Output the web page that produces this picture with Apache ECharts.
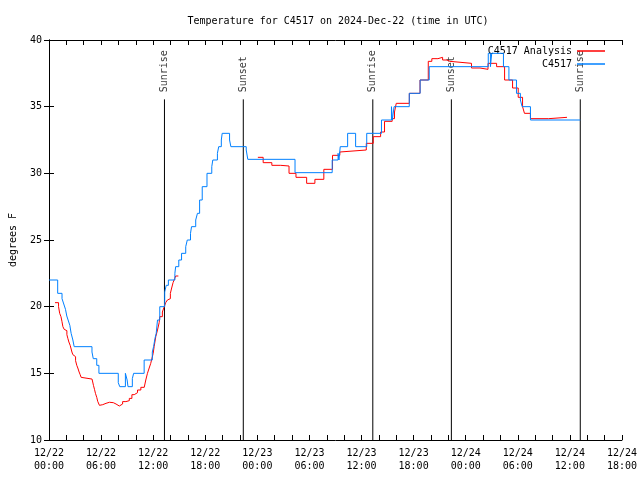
<!DOCTYPE html>
<html><head><meta charset="utf-8">
<script src="https://cdn.jsdelivr.net/npm/echarts@6/dist/echarts.min.js"></script>
<style>html,body{margin:0;padding:0;background:#fff}#c{width:640px;height:480px}</style>
</head><body><div id="c"></div>
<script>
const FONT = '"DejaVu Sans Mono", "Liberation Mono", monospace';

// C4517 observations (hours since 12/22 00:00 UTC, degrees F)
const obsHours = [0, 1.0, 1.5, 1.7, 1.9, 2.05, 2.2, 2.4, 2.55, 2.75, 2.9, 4.95, 5.1, 5.5, 5.75,
  7.98, 8.15, 8.8, 9.0, 9.1, 9.6, 9.75, 10.96, 11.9, 12.05, 12.2, 12.35, 12.5, 12.76,
  13.33, 13.5, 13.75, 14.5, 14.59, 14.95, 15.27, 15.75, 15.93, 16.3, 16.42, 16.9, 17.1, 17.35, 17.65,
  18.2, 18.75, 18.87, 19.4, 19.55, 19.85, 19.95, 20.8, 20.95, 22.72, 22.9, 28.34,
  32.62, 33.3, 33.4, 33.55, 34.4, 35.32, 36.6, 38.3, 39.45, 39.55, 39.75, 41.5, 42.75, 43.8,
  50.6, 50.85, 51.0, 52.35, 52.98, 53.85, 54.3, 54.5, 55.46, 61.2];
const obsTemps = [22, 21, 20.6, 20.2, 19.8, 19.3, 19.0, 18.6, 18.0, 17.5, 17.0, 16.6, 16.1, 15.6, 15.0,
  14.3, 14.0, 15.0, 14.5, 14.0, 14.6, 15.0, 16.0, 16.6, 17.0, 17.6, 18.0, 19.0, 20.0,
  21.1, 21.6, 22.0, 22.5, 23.0, 23.5, 24.0, 24.5, 25.0, 25.5, 26.0, 26.5, 27.0, 28.0, 29.0,
  30.0, 30.5, 31.0, 31.5, 32.0, 32.5, 33.0, 32.5, 32.0, 31.75, 31.05, 30.05,
  31.0, 31.5, 31.0, 32.0, 33.0, 32.0, 33.0, 34.0, 35.0, 34.0, 35.0, 36.0, 37.0, 38.0,
  39.0, 38.0, 39.0, 38.0, 37.0, 36.0, 35.5, 35.0, 34.0, 34.0];

// C4517 Analysis (null = no data)
const anaHours = [0.69, 1.1, 1.23, 1.38, 1.49, 1.6, 1.75, 1.95, 2.06, 2.18, 2.29, 2.44, 2.52, 2.64, 2.75, 2.9,
  3.06, 3.2, 3.32, 3.47, 3.59, 3.7, 3.82, 4.96, 5.12, 5.24, 5.35, 5.5, 5.61, 5.81, 6.0, 6.19, 6.57, 6.96,
  7.41, 7.72, 8.1, 8.48, 8.86, 9.25, 9.55, 9.82, 10.2, 10.58, 10.97, 11.15, 11.34, 11.54, 11.72, 11.92,
  12.0, 12.11, 12.3, 12.5, 12.69, 12.76, 13.06, 13.25, 13.44, 13.64, 13.83, 13.98, 14.13, 14.29, 14.47,
  14.59, 14.9,
  24.06, 24.67, 25.67, 26.7, 27.65, 28.45, 29.68, 30.63, 31.66, 32.66, 33.5, 33.7, 36.55, 37.35, 38.2,
  38.65, 39.53, 39.8, 40.0, 41.51, 42.74, 43.69, 44.1, 44.8, 45.34, 45.83, 46.18, 48.67, 49.65, 50.57,
  51.56, 52.48, 53.4, 54.05, 54.55, 54.77, 55.46, 57.56, 59.67];
const anaTemps = [20.3, 20.0, 19.5, 19.25, 18.9, 18.5, 18.3, 18.2, 17.9, 17.6, 17.35, 17.1, 16.9, 16.6, 16.4, 16.25,
  15.95, 15.6, 15.4, 15.1, 14.9, 14.7, 14.57, 14.57, 14.1, 13.8, 13.5, 13.2, 12.9, 12.6, 12.65, 12.75, 12.83, 12.8,
  12.7, 12.55, 12.7, 12.88, 12.95, 13.12, 13.4, 13.55, 13.75, 13.95, 14.1, 14.5, 15.0, 15.4, 15.75, 15.9,
  16.5, 17.0, 17.75, 18.25, 18.8, 19.25, 19.6, 19.95, 20.3, 20.5, 20.6, 21.0, 21.4, 21.8, 22.1,
  22.3, null,
  31.2, 30.8, 30.6, 30.55, 30.0, 29.7, 29.25, 29.55, 30.3, 31.35, 31.6, 31.75, 32.25, 32.75, 33.1,
  33.9, 34.1, 34.6, 35.25, 36.0, 37.0, 38.4, 38.6, 38.7, 38.5, 38.4, 38.25, 37.9, 37.8, 38.25,
  38.0, 37.0, 36.4, 35.7, 35.0, 34.5, 34.1, 34.2, 34.2];

const sunHours = [13.3, 22.38, 37.3, 46.35, 61.2];
const sunNames = ['Sunrise', 'Sunset', 'Sunrise', 'Sunset', 'Sunrise'];
const sunLineTop = 35.55;

const dayLabels = ['12/22', '12/23', '12/24'];
const yTicks = [10, 15, 20, 25, 30, 35, 40];

const pair = (hs, vs) => hs.map((h, i) => [h, vs[i] === null ? '-' : vs[i]]);
const sunLineData = [];
sunHours.forEach(h => { sunLineData.push([h, yTicks[0]], [h, sunLineTop], ['-', '-']); });

const pad = n => (n < 10 ? '0' : '') + n;
const xFmt = v => {
  if (v % 6 !== 0) return '';
  const d = Math.min(Math.floor(v / 24), dayLabels.length - 1);
  const hh = v - d * 24;
  return dayLabels[d] + '\n' + pad(hh) + ':00';
};

const axisCommon = {
  axisLine: { show: true, lineStyle: { color: '#000', width: 1 } },
  axisTick: { show: true, inside: true, length: 5, lineStyle: { color: '#000' } },
  splitLine: { show: false }
};

const legendCommon = {
  right: 30, align: 'right', itemWidth: 28, itemHeight: 1.5, icon: 'rect', selectedMode: false,
  textStyle: { fontFamily: FONT, fontSize: 10, color: '#000' }
};

const chart = echarts.init(document.getElementById('c'), null, { renderer: 'canvas' });
chart.setOption({
  animation: false,
  backgroundColor: '#fff',
  textStyle: { fontFamily: FONT },
  title: {
    text: 'Temperature for C4517 on 2024-Dec-22 (time in UTC)',
    left: 333, textAlign: 'center', top: 11,
    textStyle: { fontFamily: FONT, fontSize: 10, fontWeight: 'normal', color: '#000' }
  },
  grid: { left: 46, right: 18, top: 40, bottom: 40 },
  legend: [
    Object.assign({ data: ['C4517 Analysis'], top: 41 }, legendCommon),
    Object.assign({ data: ['C4517'], top: 54 }, legendCommon)
  ],
  xAxis: [
    Object.assign({ type: 'value', position: 'bottom', min: 0, max: 66, interval: 2,
      axisLabel: { formatter: xFmt, fontFamily: FONT, fontSize: 10, color: '#000', margin: 7, lineHeight: 13,
        showMinLabel: true, showMaxLabel: true } }, axisCommon),
    Object.assign({ type: 'value', position: 'top', min: 0, max: 66, interval: 2,
      axisLabel: { show: false } }, axisCommon)
  ],
  yAxis: [
    Object.assign({ type: 'value', position: 'left', min: 10, max: 40, interval: 5,
      name: 'degrees F', nameLocation: 'middle', nameGap: 31, nameRotate: 90,
      nameTextStyle: { fontFamily: FONT, fontSize: 10, color: '#000' },
      axisLabel: { fontFamily: FONT, fontSize: 10, color: '#000', margin: 7 } }, axisCommon),
    Object.assign({ type: 'value', position: 'right', min: 10, max: 40, interval: 5,
      axisLabel: { show: false } }, axisCommon)
  ],
  series: [
    { name: 'sun', type: 'line', data: sunLineData, symbol: 'none', connectNulls: false,
      lineStyle: { color: '#000', width: 1 }, silent: true, z: 1 },
    { name: 'sunLabels', type: 'scatter', symbolSize: 0, silent: true,
      data: sunHours.map(h => [h, sunLineTop]),
      label: { show: true, formatter: p => sunNames[p.dataIndex], rotate: 90, position: [0, -7],
        align: 'left', verticalAlign: 'middle', fontFamily: FONT, fontSize: 10, color: '#000' } },
    { name: 'C4517 Analysis', type: 'line', step: 'end', data: pair(anaHours, anaTemps), symbol: 'none',
      connectNulls: false, color: '#ff0000', lineStyle: { color: '#ff0000', width: 1 }, z: 3 },
    { name: 'C4517', type: 'line', step: 'end', data: pair(obsHours, obsTemps), symbol: 'none',
      color: '#0080ff', lineStyle: { color: '#0080ff', width: 1 }, z: 4 }
  ]
});
</script>
</body></html>
